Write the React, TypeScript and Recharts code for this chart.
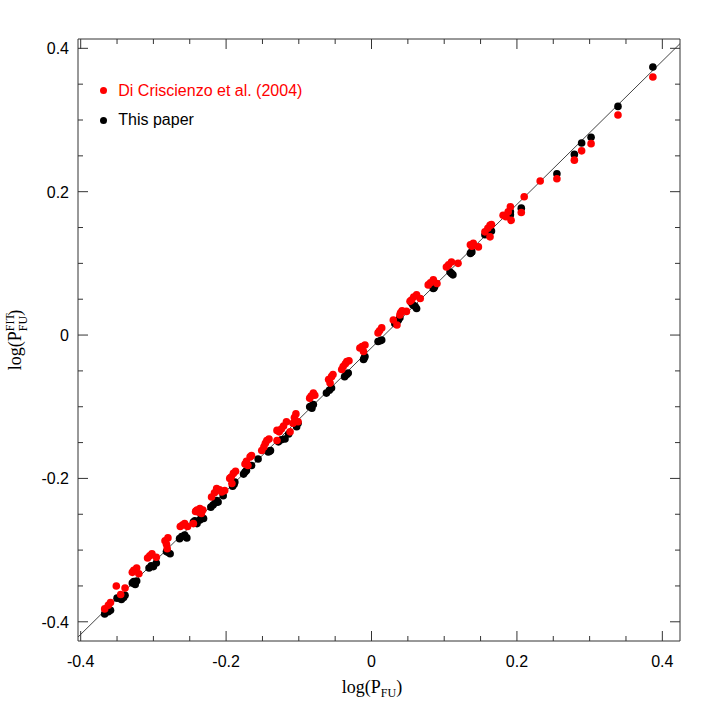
import {
  ScatterChart,
  Scatter,
  XAxis,
  YAxis,
  ReferenceLine,
  Legend,
} from "recharts";

// log(P_FU) vs log(P_FU^FIT)
const thisPaper: [number, number][] = [
  [-0.367, -0.389], [-0.359, -0.384], [-0.350, -0.367], [-0.344, -0.369], [-0.339, -0.363],
  [-0.329, -0.346], [-0.323, -0.343], [-0.325, -0.348], [-0.306, -0.325], [-0.300, -0.323],
  [-0.296, -0.318], [-0.282, -0.302], [-0.277, -0.305], [-0.264, -0.284], [-0.257, -0.279],
  [-0.254, -0.283], [-0.245, -0.261], [-0.240, -0.263], [-0.236, -0.258], [-0.231, -0.256],
  [-0.234, -0.252], [-0.221, -0.240], [-0.218, -0.237], [-0.215, -0.234], [-0.211, -0.233],
  [-0.204, -0.224], [-0.191, -0.211], [-0.188, -0.205], [-0.176, -0.194], [-0.172, -0.189],
  [-0.165, -0.182], [-0.156, -0.173], [-0.142, -0.163], [-0.139, -0.161], [-0.128, -0.149],
  [-0.119, -0.145], [-0.114, -0.138], [-0.103, -0.128], [-0.101, -0.123], [-0.085, -0.100],
  [-0.082, -0.102], [-0.080, -0.097], [-0.062, -0.081], [-0.055, -0.074], [-0.037, -0.058],
  [-0.032, -0.053], [-0.011, -0.034], [-0.009, -0.030], [0.009, -0.009], [0.014, -0.007],
  [0.032, 0.016], [0.035, 0.019], [0.039, 0.024], [0.055, 0.045], [0.060, 0.040],
  [0.062, 0.037], [0.085, 0.065], [0.087, 0.068], [0.108, 0.088], [0.112, 0.084],
  [0.136, 0.114], [0.138, 0.116], [0.156, 0.140], [0.163, 0.144], [0.165, 0.145],
  [0.191, 0.172], [0.191, 0.168], [0.206, 0.177], [0.255, 0.225], [0.279, 0.252],
  [0.289, 0.268], [0.302, 0.276], [0.339, 0.319], [0.387, 0.374],
  [-0.362, -0.386], [-0.341, -0.366], [-0.327, -0.344], [-0.303, -0.322], [-0.280, -0.303],
  [-0.261, -0.281], [-0.243, -0.259], [-0.213, -0.231], [-0.189, -0.208], [-0.174, -0.191],
  [-0.140, -0.162], [-0.124, -0.146], [-0.083, -0.099], [-0.058, -0.077], [-0.034, -0.055],
  [-0.010, -0.032], [0.012, -0.008], [0.037, 0.021], [0.057, 0.042], [0.086, 0.066],
  [0.110, 0.086], [0.137, 0.115], [0.160, 0.142],
];

const diCriscienzo: [number, number][] = [
  [-0.367, -0.382], [-0.359, -0.373], [-0.351, -0.350], [-0.345, -0.362], [-0.339, -0.353],
  [-0.329, -0.331], [-0.323, -0.325], [-0.320, -0.333], [-0.308, -0.311], [-0.302, -0.305],
  [-0.296, -0.310], [-0.284, -0.287], [-0.280, -0.283], [-0.281, -0.298], [-0.263, -0.267],
  [-0.257, -0.263], [-0.253, -0.267], [-0.245, -0.263], [-0.240, -0.244], [-0.236, -0.242],
  [-0.238, -0.247], [-0.234, -0.249], [-0.220, -0.226], [-0.213, -0.214], [-0.206, -0.219],
  [-0.202, -0.217], [-0.195, -0.200], [-0.190, -0.193], [-0.192, -0.207], [-0.174, -0.180],
  [-0.167, -0.170], [-0.170, -0.182], [-0.151, -0.161], [-0.144, -0.147], [-0.148, -0.156],
  [-0.130, -0.147], [-0.130, -0.133], [-0.124, -0.131], [-0.117, -0.121], [-0.112, -0.135],
  [-0.104, -0.110], [-0.101, -0.121], [-0.108, -0.123], [-0.085, -0.088], [-0.080, -0.081],
  [-0.057, -0.067], [-0.055, -0.058], [-0.053, -0.055], [-0.039, -0.044], [-0.034, -0.037],
  [-0.031, -0.036], [-0.041, -0.048], [-0.016, -0.018], [-0.009, -0.014], [-0.011, -0.023],
  [0.009, 0.003], [0.014, 0.010], [0.030, 0.021], [0.039, 0.028], [0.042, 0.034],
  [0.035, 0.014], [0.048, 0.033], [0.053, 0.047], [0.055, 0.049], [0.062, 0.056],
  [0.067, 0.051], [0.078, 0.070], [0.085, 0.077], [0.090, 0.072], [0.103, 0.095],
  [0.110, 0.102], [0.119, 0.100], [0.136, 0.126], [0.140, 0.128], [0.147, 0.123],
  [0.156, 0.144], [0.163, 0.153], [0.163, 0.137], [0.165, 0.154], [0.181, 0.167],
  [0.185, 0.165], [0.191, 0.179], [0.192, 0.160], [0.206, 0.171], [0.210, 0.193],
  [0.232, 0.215], [0.255, 0.218], [0.279, 0.244], [0.289, 0.257], [0.302, 0.267],
  [0.339, 0.307], [0.387, 0.360],
  [-0.362, -0.377], [-0.327, -0.328], [-0.305, -0.308], [-0.282, -0.292], [-0.260, -0.265],
  [-0.242, -0.246], [-0.232, -0.244], [-0.216, -0.220], [-0.209, -0.216], [-0.193, -0.198],
  [-0.187, -0.190], [-0.172, -0.176], [-0.165, -0.168], [-0.146, -0.151], [-0.141, -0.145],
  [-0.127, -0.135], [-0.121, -0.127], [-0.106, -0.115], [-0.083, -0.085], [-0.078, -0.084],
  [-0.059, -0.062], [-0.036, -0.040], [-0.013, -0.016], [0.011, 0.006], [0.040, 0.031],
  [0.058, 0.053], [0.081, 0.073], [0.106, 0.098], [0.138, 0.124], [0.160, 0.149],
  [0.188, 0.172],
];

// every 0.05 gets a tick, every 0.2 a long labelled one
const axisTicks = [
  -0.4, -0.35, -0.3, -0.25, -0.2, -0.15, -0.1, -0.05, 0,
  0.05, 0.1, 0.15, 0.2, 0.25, 0.3, 0.35, 0.4,
];

// the drawn 1:1 line sits a little under y = x in the figure
const diagonal = [
  { x: -0.4037, y: -0.4213 },
  { x: 0.4243, y: 0.4065 },
];

const xDomain: [number, number] = [-0.4037, 0.4243];
const yDomain: [number, number] = [-0.4268, 0.413];

const RED = "#ff0000";
const BLACK = "#000000";
const AXIS = "#333";
const SANS = "'Liberation Sans', Arial, sans-serif";
const SERIF = "'Liberation Serif', 'DejaVu Serif', serif";

const toPoints = (rows: [number, number][]) => rows.map(([x, y]) => ({ x, y }));

const isMajor = (v: number) => Math.abs(v * 5 - Math.round(v * 5)) < 1e-6;
const fmt = (v: number) => (Math.abs(v) < 1e-9 ? "0" : String(v));

const dot = (color: string) => (p: any) => <circle cx={p.cx} cy={p.cy} r={3.8} fill={color} />;

// side: which frame edge; ticks always point into the plot
const FrameTick = (side: "bottom" | "top" | "left" | "right", labelled: boolean) => (p: any) => {
  const v = p.payload.value;
  const len = isMajor(v) ? 10 : 5;
  const { x, y } = p;
  let line;
  if (side === "bottom") line = <line x1={x} y1={y} x2={x} y2={y - len} stroke={AXIS} />;
  else if (side === "top") line = <line x1={x} y1={y} x2={x} y2={y + len} stroke={AXIS} />;
  else if (side === "left") line = <line x1={x} y1={y} x2={x + len} y2={y} stroke={AXIS} />;
  else line = <line x1={x} y1={y} x2={x - len} y2={y} stroke={AXIS} />;
  let label = null;
  if (labelled && isMajor(v)) {
    label =
      side === "bottom" ? (
        <text x={x} y={y + 26} textAnchor="middle" fontFamily={SANS} fontSize={16} fill="#000">{fmt(v)}</text>
      ) : (
        <text x={x - 9} y={y + 6} textAnchor="end" fontFamily={SANS} fontSize={16} fill="#000">{fmt(v)}</text>
      );
  }
  return (
    <g>
      {line}
      {label}
    </g>
  );
};

function LegendBox() {
  const rows = [
    { label: "Di Criscienzo et al. (2004)", color: RED },
    { label: "This paper", color: BLACK },
  ];
  return (
    <div style={{ fontFamily: SANS, fontSize: 16 }}>
      {rows.map((r) => (
        <div key={r.label} style={{ display: "flex", alignItems: "center", height: 29.5 }}>
          <span
            style={{
              display: "inline-block",
              width: 7,
              height: 7,
              borderRadius: "50%",
              background: r.color,
              marginRight: 11.5,
            }}
          />
          <span style={{ color: r.color }}>{r.label}</span>
        </div>
      ))}
    </div>
  );
}

export default function App() {
  const common = { type: "number" as const, allowDataOverflow: true, ticks: axisTicks, interval: 0, tickSize: 0, tickMargin: 0, tickLine: false, axisLine: { stroke: AXIS } };
  return (
    <div style={{ position: "absolute", left: 0, top: 0, width: 718, height: 718, background: "#fff" }}>
      <ScatterChart width={718} height={718} margin={{ top: 38, right: 37, bottom: 76, left: 77 }}>
        <XAxis {...common} xAxisId="b" dataKey="x" domain={xDomain} height={1} orientation="bottom" tick={FrameTick("bottom", true)} />
        <XAxis {...common} xAxisId="t" dataKey="x" domain={xDomain} height={1} orientation="top" tick={FrameTick("top", false)} />
        <YAxis {...common} yAxisId="l" dataKey="y" domain={yDomain} width={1} orientation="left" tick={FrameTick("left", true)} />
        <YAxis {...common} yAxisId="r" dataKey="y" domain={yDomain} width={1} orientation="right" tick={FrameTick("right", false)} />

        <ReferenceLine xAxisId="b" yAxisId="l" segment={diagonal} stroke="#444" strokeWidth={1} ifOverflow="hidden" />

        <Scatter name="This paper" xAxisId="b" yAxisId="l" data={toPoints(thisPaper)}
          fill={BLACK} shape={dot(BLACK)} isAnimationActive={false} />
        <Scatter name="Di Criscienzo et al. (2004)" xAxisId="b" yAxisId="l" data={toPoints(diCriscienzo)}
          fill={RED} shape={dot(RED)} isAnimationActive={false} />

        <Legend content={() => <LegendBox />} layout="vertical" align="center" verticalAlign="middle"
          wrapperStyle={{ left: 99.8, top: 76, width: "auto", height: "auto" }} />

        {/* axis titles */}
        <text x={372} y={693} textAnchor="middle" fontFamily={SERIF} fontSize={18} fill="#000">
          log(P<tspan fontSize={12} dy={4}>FU</tspan><tspan dy={-4}>)</tspan>
        </text>
        <text x={0} y={0} transform="translate(21,340) rotate(-90)" textAnchor="middle"
          fontFamily={SERIF} fontSize={18} fill="#000">
          log(P<tspan fontSize={12} dy={-7}>FIT</tspan><tspan fontSize={12} dx={-18} dy={13}>FU</tspan><tspan dy={-6}>)</tspan>
        </text>
      </ScatterChart>
    </div>
  );
}
